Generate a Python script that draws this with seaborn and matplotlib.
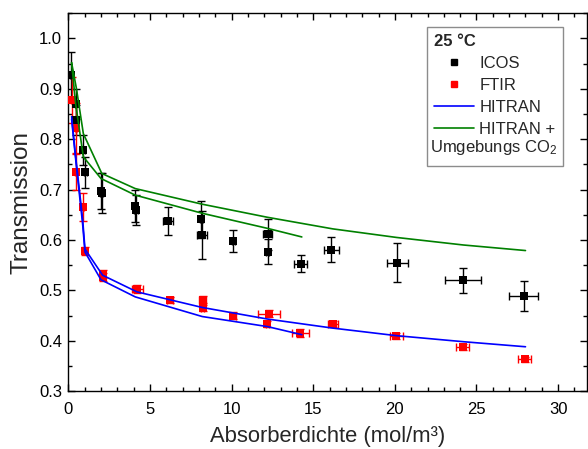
import matplotlib
matplotlib.use("Agg")
import matplotlib.pyplot as plt
from matplotlib.lines import Line2D
from matplotlib.ticker import MultipleLocator
import seaborn as sns
import pandas as pd

# ICOS measurements (Absorberdichte, Transmission, x-error, y-error)
icos_x = [0.15, 0.45, 0.45, 0.92, 1.05, 2.0, 2.05, 4.1, 4.15, 6.1, 8.15, 8.2,
          10.1, 12.2, 12.2, 14.24, 16.1, 20.16, 24.16, 27.9]
icos_y = [0.927, 0.870, 0.838, 0.778, 0.734, 0.697, 0.693, 0.667, 0.659, 0.638,
          0.641, 0.610, 0.598, 0.611, 0.577, 0.553, 0.581, 0.555, 0.520, 0.488]
icos_xerr = [0.05, 0.05, 0.05, 0.1, 0.1, 0.1, 0.1, 0.1, 0.1, 0.3, 0.1, 0.3,
             0.1, 0.3, 0.1, 0.4, 0.47, 0.63, 1.1, 0.89]
icos_yerr = [0.046, 0.03, 0.03, 0.03, 0.03, 0.035, 0.04, 0.032, 0.03, 0.028,
             0.037, 0.048, 0.022, 0.03, 0.025, 0.0175, 0.025, 0.039, 0.025, 0.03]

# FTIR measurements
ftir_x = [0.2, 0.47, 0.47, 0.88, 1.02, 2.1, 2.1, 4.22, 6.22, 8.22, 8.22, 10.1,
          12.3, 12.18, 14.22, 16.22, 20.1, 24.17, 27.95]
ftir_y = [0.878, 0.822, 0.735, 0.666, 0.578, 0.533, 0.526, 0.503, 0.481, 0.481,
          0.464, 0.450, 0.454, 0.433, 0.416, 0.434, 0.410, 0.387, 0.363]
ftir_xerr = [0.05, 0.05, 0.05, 0.1, 0.1, 0.1, 0.1, 0.35, 0.2, 0.2, 0.1, 0.2,
             0.66, 0.1, 0.51, 0.3, 0.4, 0.4, 0.4]
ftir_yerr = [0.045, 0.05, 0.035, 0.028, 0.008, 0.008, 0.008, 0.008, 0.006, 0.007,
             0.006, 0.006, 0.006, 0.006, 0.008, 0.006, 0.006, 0.006, 0.005]

# HITRAN simulations
hitran_long_x = [0.2, 0.45, 0.88, 1.02, 2.1, 4.2, 8.2, 12.2, 16.2, 20.1, 24.2, 28.0]
hitran_long_y = [0.845, 0.765, 0.640, 0.582, 0.530, 0.497, 0.466, 0.443, 0.425,
                 0.410, 0.398, 0.388]
hitran_short_x = [0.2, 0.45, 0.88, 1.02, 2.0, 4.1, 8.2, 12.2, 14.3]
hitran_short_y = [0.840, 0.760, 0.630, 0.576, 0.521, 0.487, 0.448, 0.428, 0.412]

# HITRAN + ambient CO2
co2_long_x = [0.2, 0.5, 0.92, 2.05, 4.1, 8.2, 12.2, 16.2, 20.1, 24.2, 28.0]
co2_long_y = [0.952, 0.900, 0.811, 0.732, 0.702, 0.671, 0.645, 0.622, 0.605,
              0.590, 0.579]
co2_short_x = [0.2, 0.45, 0.92, 2.0, 4.1, 8.2, 12.2, 14.3]
co2_short_y = [0.952, 0.870, 0.765, 0.722, 0.689, 0.653, 0.623, 0.606]

sns.set_theme(style="ticks")
plt.rcParams["font.family"] = ["Liberation Sans", "DejaVu Sans"]
plt.rcParams["mathtext.fontset"] = "custom"
plt.rcParams["mathtext.rm"] = "Liberation Sans"
plt.rcParams["mathtext.it"] = "Liberation Sans:italic"

fig = plt.figure(figsize=(5.88, 4.49), dpi=100)
ax = fig.add_axes([0.1162, 0.129, 0.8816, 0.8414])

blue = "#0000ff"
green = "#008000"
red = "#ff0000"

# error bars
ax.errorbar(icos_x, icos_y, xerr=icos_xerr, yerr=icos_yerr, fmt="none",
            ecolor="black", elinewidth=1.0, capsize=2.8, capthick=1.0, zorder=2)
ax.errorbar(ftir_x, ftir_y, xerr=ftir_xerr, yerr=ftir_yerr, fmt="none",
            ecolor=red, elinewidth=1.0, capsize=2.8, capthick=1.0, zorder=2)

icos = pd.DataFrame({"x": icos_x, "y": icos_y})
ftir = pd.DataFrame({"x": ftir_x, "y": ftir_y})
sns.scatterplot(data=icos, x="x", y="y", marker="s", s=30, color="black",
                edgecolor="black", linewidth=0, ax=ax, zorder=3)
sns.scatterplot(data=ftir, x="x", y="y", marker="s", s=30, color=red,
                edgecolor=red, linewidth=0, ax=ax, zorder=3)

for xs, ys, c in [(hitran_long_x, hitran_long_y, blue),
                  (hitran_short_x, hitran_short_y, blue),
                  (co2_long_x, co2_long_y, green),
                  (co2_short_x, co2_short_y, green)]:
    sns.lineplot(x=xs, y=ys, color=c, linewidth=1.2, sort=False,
                 estimator=None, ax=ax, zorder=4)

ax.set_xlim(0, 31.75)
ax.set_ylim(0.3, 1.05)
ax.xaxis.set_major_locator(MultipleLocator(5))
ax.xaxis.set_minor_locator(MultipleLocator(1))
ax.yaxis.set_minor_locator(MultipleLocator(0.05))
ax.set_yticks([0.3, 0.4, 0.5, 0.6, 0.7, 0.8, 0.9, 1.0])
ax.set_yticklabels(["0.3", "0.4", "0.5", "0.6", "0.7", "0.8", "0.9", "1.0"])
ax.tick_params(which="both", direction="in", top=True, right=True,
               colors="black", labelsize=12, width=1.0)
ax.tick_params(which="major", length=5)
ax.tick_params(which="minor", length=3)
ax.tick_params(axis="x", which="major", pad=8)
ax.tick_params(axis="y", which="major", pad=4.5)
for s in ax.spines.values():
    s.set_linewidth(1.0)
    s.set_color("black")

ax.set_xlabel("Absorberdichte (mol/m³)", fontsize=15.8, labelpad=6)
ax.set_ylabel("Transmission", fontsize=17.5, labelpad=5)

handles = [
    Line2D([], [], linestyle="none", marker="s", markersize=4.5, color="black"),
    Line2D([], [], linestyle="none", marker="s", markersize=4.5, color=red),
    Line2D([], [], color=blue, linewidth=1.2),
    Line2D([], [], color=green, linewidth=1.2),
    Line2D([], [], linestyle="none"),
]
labels = ["ICOS", "FTIR", "HITRAN", "HITRAN +", " "]
leg = ax.legend(handles, labels, title="25 °C", loc="upper left",
                bbox_to_anchor=(427.3 / 588, 1 - 27.3 / 449),
                bbox_transform=fig.transFigure, borderaxespad=0,
                fontsize=12, title_fontproperties={"weight": "bold", "size": 12},
                alignment="left", handlelength=2.4, handletextpad=0.3,
                borderpad=0.42, labelspacing=0.42, frameon=True, fancybox=False,
                framealpha=1, edgecolor="#8c8c8c")
leg.get_frame().set_linewidth(1.0)
fig.text(430.5 / 588, 1 - 148 / 449, "Umgebungs CO$_2$", fontsize=12,
         ha="left", va="center", zorder=10)

fig.savefig("out.png", dpi=100)
